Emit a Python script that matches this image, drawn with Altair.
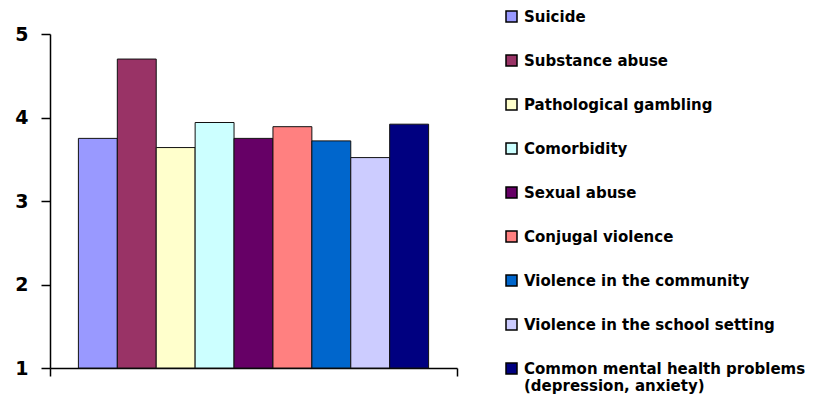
import altair as alt
import pandas as pd

categories = [
    "Suicide",
    "Substance abuse",
    "Pathological gambling",
    "Comorbidity",
    "Sexual abuse",
    "Conjugal violence",
    "Violence in the community",
    "Violence in the school setting",
    "Common mental health problems|(depression, anxiety)",
]
values = [3.75, 4.70, 3.64, 3.94, 3.75, 3.89, 3.72, 3.52, 3.92]
colors = ["#9999FF", "#993366", "#FFFFCC", "#CCFFFF", "#660066",
          "#FF8080", "#0066CC", "#CCCCFF", "#000080"]
y_ticks = [1, 2, 3, 4, 5]
x_ends = [0, 1]

df = pd.DataFrame({"category": categories, "value": values})
ends = pd.DataFrame({"pos": x_ends})

bars = alt.Chart(df).mark_bar(stroke="#111111", strokeWidth=1).encode(
    x=alt.X("category:N", sort=categories, axis=None,
            scale=alt.Scale(paddingInner=0, paddingOuter=0.73)),
    y=alt.Y("value:Q",
            scale=alt.Scale(domain=[1, 5], zero=False, nice=False),
            axis=alt.Axis(values=y_ticks, title=None, grid=False,
                          tickSize=9, tickColor="black", tickWidth=1.5,
                          domainColor="black", domainWidth=1.5,
                          labelFontSize=19, labelFontWeight="bold",
                          labelColor="black", labelPadding=13,
                          labelFont="DejaVu Sans")),
    y2=alt.datum(1),
    color=alt.Color("category:N", sort=categories,
                    scale=alt.Scale(domain=categories, range=colors),
                    legend=alt.Legend(
                        title=None, orient="none", legendX=454, legendY=-25,
                        symbolType="square", symbolSize=121,
                        symbolStrokeColor="black", symbolStrokeWidth=1.5,
                        labelFontSize=15, labelFontWeight="bold",
                        labelFont="DejaVu Sans", labelColor="black",
                        labelExpr="split(datum.label, '|')",
                        labelOffset=5, rowPadding=27, labelLimit=400,
                        padding=0)),
)

ends_layer = alt.Chart(ends).mark_point(opacity=0, size=0).encode(
    x=alt.X("pos:Q", scale=alt.Scale(domain=[0, 1], nice=False),
            axis=alt.Axis(values=x_ends, labels=False, title=None, grid=False,
                          tickSize=8, tickColor="black", tickWidth=1.5,
                          domainColor="black", domainWidth=1.5)),
)

chart = alt.layer(bars, ends_layer).resolve_scale(x="independent").properties(
    width=407, height=334,
    background="white",
    autosize=alt.AutoSizeParams(type="none"),
    padding={"left": 42, "top": 26, "right": 352, "bottom": 27},
).configure_view(strokeWidth=0, stroke="transparent")

chart.save("out.html", embed_options={"renderer": "svg", "actions": False})
